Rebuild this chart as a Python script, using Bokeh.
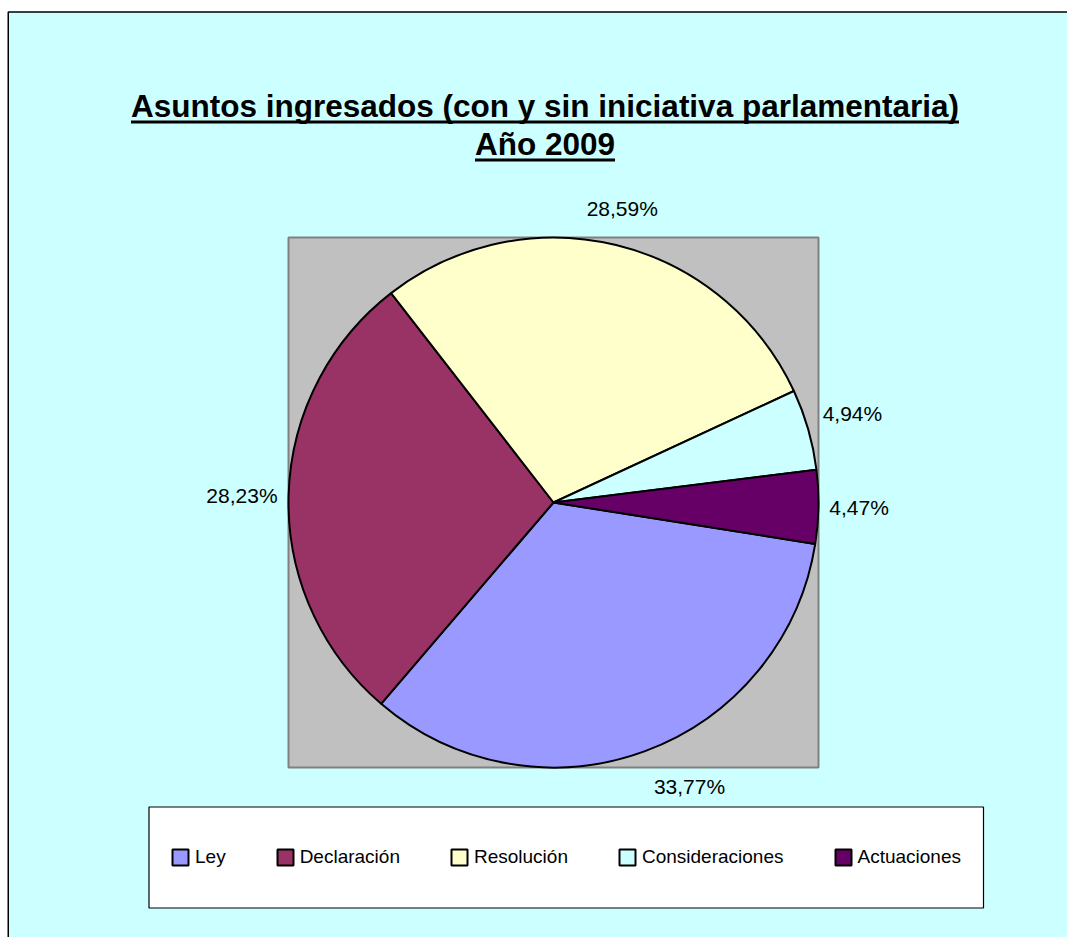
import math
import numpy as np
from bokeh.plotting import figure
from bokeh.models import ColumnDataSource, Range1d, Legend, LegendItem
from bokeh.core.properties import value
from bokeh.embed import file_html
from bokeh.resources import INLINE

# ---------------- data ----------------
categories = ["Ley", "Declaración", "Resolución", "Consideraciones", "Actuaciones"]
percentages = [33.77, 28.23, 28.59, 4.94, 4.47]
pct_labels = ["33,77%", "28,23%", "28,59%", "4,94%", "4,47%"]
title_lines = ["Asuntos ingresados (con y sin iniciativa parlamentaria)", "Año 2009"]

# ---------------- style ----------------
colors = ["#9999FF", "#993366", "#FFFFCC", "#CCFFFF", "#660066"]
BG = "#CCFFFF"
PLOT_BG = "#C0C0C0"
FONT = "Liberation Sans"

W, H = 1067, 937
PAGE = 937  # data y = PAGE - page_y, data x = page_x


def py(y):
    return PAGE - y


# Arial / Liberation Sans Bold advance widths (per 1000 em)
BOLD_W = {"A": 722, "s": 556, "u": 611, "n": 611, "t": 333, "o": 611, " ": 278,
          "i": 278, "g": 611, "r": 389, "e": 556, "a": 556, "d": 611, "(": 333,
          "c": 556, "y": 556, ")": 333, "v": 556, "p": 611, "l": 278, "m": 889,
          "ñ": 611, "2": 556, "0": 556, "9": 556}


def text_width(s, size):
    return sum(BOLD_W.get(ch, 556) for ch in s) * size / 1000.0


p = figure(width=W, height=H, x_range=Range1d(0, W), y_range=Range1d(0, H),
           output_backend="svg", toolbar_location=None, min_border=0)
p.axis.visible = False
p.grid.visible = False
p.outline_line_color = None
p.background_fill_color = "white"
p.border_fill_color = "white"

# chart area (extends beyond the window on right/bottom)
p.quad(left=[7.75], right=[1300], top=[py(11.5)], bottom=[-200],
       fill_color=BG, line_color="black", line_width=1.5)

# plot area + pie
cx, cy, R = 553, py(502), 265
p.quad(left=[cx - R], right=[cx + R], top=[cy + R], bottom=[cy - R],
       fill_color=PLOT_BG, line_color="#808080", line_width=2)

fr = np.array(percentages) / sum(percentages)
cum = np.concatenate([[0.0], np.cumsum(fr)])
s0 = math.radians(-9.0)
starts = s0 - 2 * math.pi * cum[1:]
ends = s0 - 2 * math.pi * cum[:-1]

src = ColumnDataSource(dict(cat=categories, start=starts, end=ends, color=colors))
wr = p.wedge(x=cx, y=cy, radius=R, start_angle="start", end_angle="end", source=src,
             fill_color="color", line_color="black", line_width=2)

# percentage labels
for i, lab in enumerate(pct_labels):
    mid = (starts[i] + ends[i]) / 2
    c, s = math.cos(mid), math.sin(mid)
    rf = R * (1.04 + 0.06 * abs(s))
    ax, ay = cx + rf * c, cy + rf * s
    align = "left" if c > 0.3 else ("right" if c < -0.3 else "center")
    base = "bottom" if s > 0.25 else ("top" if s < -0.25 else "middle")
    p.text(x=[ax], y=[ay], text=[lab], text_font=value(FONT), text_font_size="21px",
           text_color="black", text_align=align, text_baseline=base)

# title with underline
tx = 544.5
tsize = 31.5
for line, mid_y, ul_y in zip(title_lines, [105.5, 143.5], [121.5, 159.5]):
    p.text(x=[tx], y=[py(mid_y)], text=[line], text_font=value(FONT), text_font_style="bold",
           text_font_size=f"{tsize}px", text_color="black", text_align="center",
           text_baseline="middle")
    w = text_width(line, tsize)
    p.segment(x0=[tx - w / 2], x1=[tx + w / 2], y0=[py(ul_y)], y1=[py(ul_y)],
              line_color="black", line_width=3)

# legend box
p.quad(left=[148.5], right=[983], top=[py(806.5)], bottom=[py(907.5)],
       fill_color="white", line_color="black", line_width=1.2)

items = [LegendItem(label=cat, renderers=[wr], index=i) for i, cat in enumerate(categories)]
legend = Legend(items=items, orientation="horizontal", location=(170, 69),
                glyph_width=20, glyph_height=20, label_standoff=5, spacing=49,
                padding=0, margin=0, border_line_color=None, background_fill_alpha=0,
                label_text_font=FONT, label_text_font_size="19px", label_text_color="black")
p.add_layout(legend)

open("out.html", "w").write(file_html(p, INLINE))
